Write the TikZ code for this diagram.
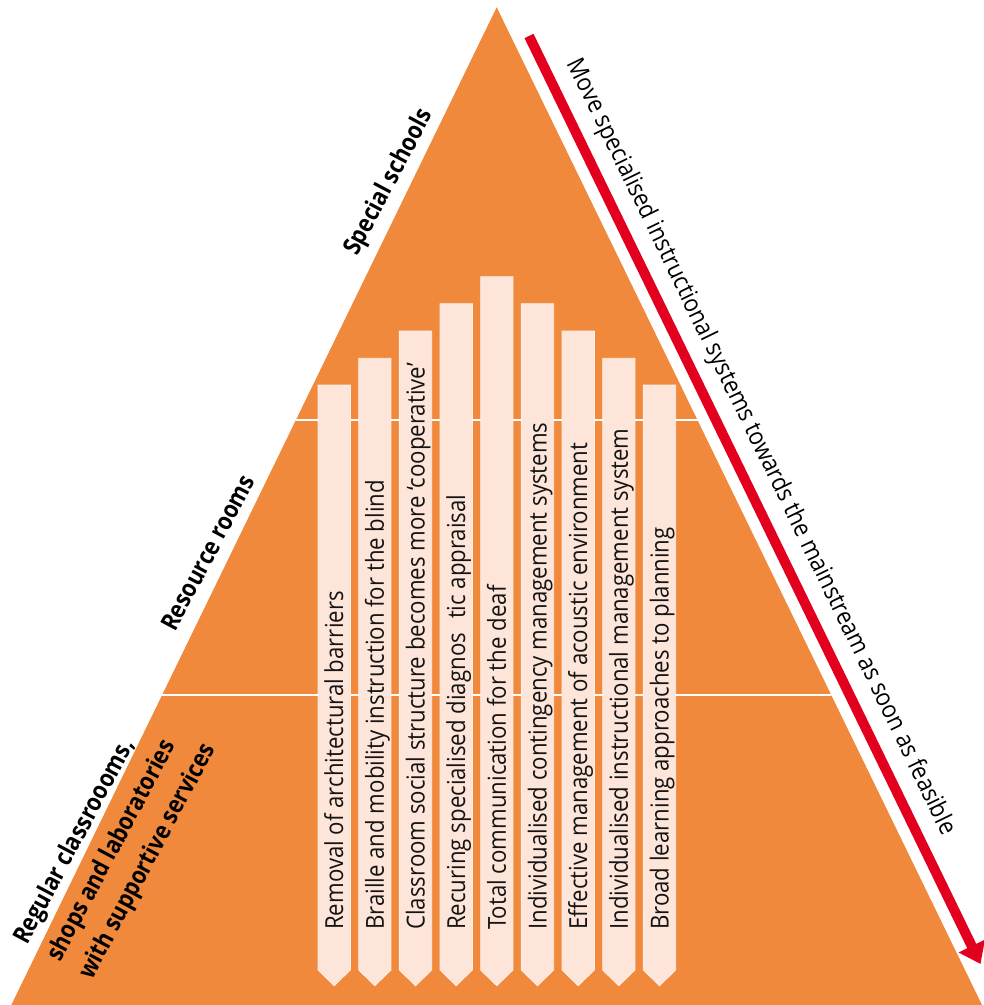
\documentclass[tikz,border=0pt]{standalone}
\usepackage{fontspec}
\setmainfont{Open Sans}[FakeStretch=0.895]
\newfontfamily\lblfont{Open Sans}[FakeStretch=0.87]
\usetikzlibrary{arrows.meta}
\definecolor{pyr}{HTML}{F0893B}
\definecolor{barf}{HTML}{FDE5D9}
\definecolor{arrc}{HTML}{E3001F}
\begin{document}
\begin{tikzpicture}[x=0.75pt,y=-0.75pt,
  bartext/.style={rotate=90,anchor=base west,inner sep=0pt,font=\fontsize{18.6}{22}\selectfont,text=black!92},
  lvl/.style={rotate=62,anchor=base west,inner sep=0pt,font=\lblfont\bfseries\fontsize{18.6}{22}\selectfont,text=black},
  movetext/.style={rotate=-64.06,anchor=base west,inner sep=0pt,font=\fontsize{18.6}{22}\selectfont,text=black},
  barshape/.style={fill=barf,draw=barf!60!white,line width=0.6pt},
  divider/.style={draw=white,line width=1.5pt}]
\useasboundingbox[fill=white] (0,0) rectangle (983,1005);
\coordinate (apex) at (496.7,7.3);
\coordinate (bl) at (11.3,1005);
\coordinate (br) at (982,1005);
\fill[pyr] (apex) -- (bl) -- (br) -- cycle;
\begin{scope}
  \clip (apex) -- (bl) -- (br) -- cycle;
  \coordinate (d1l) at (0,420); \coordinate (d1r) at (983,420);
  \coordinate (d2l) at (0,695); \coordinate (d2r) at (983,695);
  \draw[divider] (d1l) -- (d1r);
  \draw[divider] (d2l) -- (d2r);
\end{scope}
\foreach \i/\cx/\top/\txt in {
  1/334.2/385/{Removal of architectural barriers},
  2/374.8/358.3/{Braille and mobility instruction for the blind},
  3/415.5/331/{Classroom social structure becomes more ‘cooperative’},
  4/456.2/303.7/{Recuring specialised diagnos\hspace{10.5pt}tic appraisal},
  5/496.8/276.7/{Total communication for the deaf},
  6/537.5/303.7/{Individualised contingency management systems},
  7/578.2/331/{Effective management of acoustic environment},
  8/618.8/358.3/{Individualised instructional management system},
  9/659.5/385/{Broad learning approaches to planning}}{
  \draw[barshape] (\cx-16.15,970) -- (\cx-16.15,\top) -- (\cx+16.15,\top) -- (\cx+16.15,970) -- (\cx,985.7) -- cycle;
  \node[bartext] (t\i) at (\cx+9,930) {\txt};
}
\node[lvl] (ss) at (357,257) {Special schools};
\node[lvl] (rr) at (175,633) {Resource rooms};
\node[lvl] (rc1) at (27,946) {Regular classroooms,};
\node[lvl] (rc2) at (60,963) {shops and laboratories};
\node[lvl] (rc3) at (92,981) {with supportive services};
\coordinate (as) at (529,36);
\coordinate (at) at (980.5,964);
\draw[arrc,line width=7.5pt,-{Triangle[width=21pt,length=15pt]}] (as) -- (at);
\node[movetext] (mv) at (566.7,63.3) {Move specialised instructional systems towards the mainstream as soon as feasible};
\end{tikzpicture}
\end{document}
